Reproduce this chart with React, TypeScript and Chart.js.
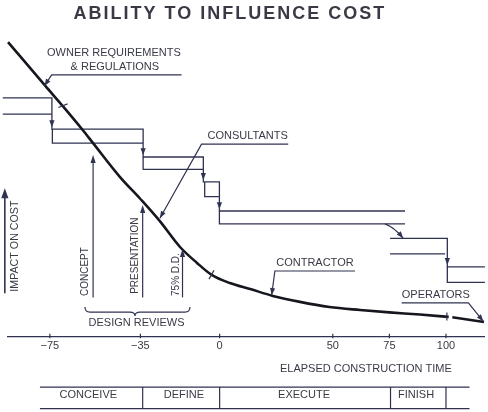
import { useEffect, useRef } from 'react';
import { Chart, registerables } from 'chart.js';

Chart.register(...registerables);

const INK = '#2f3350';
const CURVE = '#16161e';
const TEXT = '#3a3a46';
const FONT = '"Liberation Sans", Arial, Helvetica, sans-serif';

// ---- axis (elapsed construction time) ----
const axisMin = -93.5;
const axisMax = 116.8;
const tickValues = [-75, -35, 0, 50, 75, 100];
const tickLabels = ['\u221275', '\u221235', '0', '50', '75', '100'];

// ---- ability-to-influence curve (impact, 0..100) ----
const curveX = [-93.5, -77, -69, -60.5, -56, -44, -35, -26.5, -17.5, -10, -3.5, 4.5, 13.5, 23.5, 35.5, 48.5, 62, 75, 88.5, 101.2];
const curveY = [98.3, 83.7, 76.7, 69, 64.7, 53.3, 46, 38.7, 30, 24.7, 20.7, 18, 16, 13.7, 11.7, 10, 9, 8.2, 7.5, 6.7];
const tailX = [102.8, 116.8];
const tailY = [6.6, 5];

// ---- staircase band (upper path) ----
const stepUpperX = [-95.8, -74.1, -74.1, -33.8, -33.8, -7.2, -7.2, -0.1, -0.1, 81.9];
const stepUpperY = [79.7, 79.7, 69.3, 69.3, 60, 60, 51.7, 51.7, 42, 42];
const stepUpper2X = [75.3, 100.6, 100.6, 117.2];
const stepUpper2Y = [32.9, 32.9, 23.4, 23.4];

// ---- staircase band (lower edges of each step) ----
const lowerAX = [-95.8, -74.1];
const lowerAY = [74.3, 74.3];
const lowerBX = [-73.9, -73.9, -33.8];
const lowerBY = [69.3, 64.6, 64.6];
const lowerCX = [-33.8, -33.8, -7.2];
const lowerCY = [60, 55.9, 55.9];
const lowerDX = [-6.6, -6.6, -0.1];
const lowerDY = [51.7, 46.8, 46.8];
const lowerEX = [-0.1, -0.1, 81.9];
const lowerEY = [42, 37.7, 37.7];
const lowerFX = [75.3, 99.6];
const lowerFY = [27.7, 27.7];
const lowerGX = [100.6, 100.6, 117.2];
const lowerGY = [23.4, 18.2, 18.2];

// arrow tips on the staircase (pointing down)
const stepArrowX = [-74.1, -33.8, -7.2, -0.1, 100.6];
const stepArrowY = [69.9, 60.6, 52.3, 42.6, 24.0];

// ---- texts ----
const titleText = 'ABILITY TO INFLUENCE COST';
const titleX = 4.1;
const titleY = 107.7;

const labelText = ['OWNER REQUIREMENTS', '& REGULATIONS', 'CONSULTANTS', 'CONTRACTOR', 'OPERATORS', 'DESIGN REVIEWS', 'ELAPSED CONSTRUCTION TIME'];
const labelX = [-46.7, -46.3, 12.4, 42.1, 95.5, -36.7, 64.6];
const labelY = [94.6, 90.1, 67, 24.6, 14, 4.8, -10.7];

const vText = ['IMPACT ON COST', 'CONCEPT', 'PRESENTATION', '75% D.D.'];
const vX = [-90.6, -59.3, -37.4, -19.3];
const vY = [30.3, 21.8, 27.1, 20.8];
const vSize = [10.7, 10, 10, 10];

// upward arrows: x, from, to
const upArrowX = [-94.9, -55.9, -34, -16.4];
const upArrowFrom = [14.6, 13.2, 13.2, 13.2];
const upArrowTo = [49.6, 60.7, 44, 29.3];

// leaders: underline start, underline end (= corner), tip
const leaderStartX = [-16.8, 30.3, 59.8, 80.4];
const leaderCornerX = [-74.2, -8, 24.4, 109.9];
const leaderLineY = [87.4, 64.3, 22, 11.4];
const leaderTipX = [-77.4, -26.4, 23, 116.5];
const leaderTipY = [83.7, 39.6, 14, 5.2];

// curved arrow between the long step and the finish steps
const bendFrom = [73, 37.7];
const bendTo = [81.1, 32.9];

// small cross marks on the curve
const markX1 = [-71.2, -4.7, 100.4];
const markY1 = [76.5, 19.3, 8.2];
const markX2 = [-67.2, -2.5, 100.4];
const markY2 = [77.7, 22.2, 5.5];

// brace under the review arrows
const braceLeft = -59.5;
const braceRight = -13.1;
const braceMid = -37.4;
const braceEndY = 10;
const braceLineY = 8.3;
const braceTipY = 7;

// phase strip
const phaseNames = ['CONCEIVE', 'DEFINE', 'EXECUTE', 'FINISH'];
const phaseLabelX = [-58, -15.8, 37.3, 86.8];
const phaseLabelY = -19.3;
const phaseDividers = [-34, 0, 75.5, 100];
const phaseLeft = -79.4;
const phaseRight = 110.4;
const phaseTop = -16.7;
const phaseBottom = -23.9;

const pts = (xs: number[], ys: number[]) => xs.map((x, i) => ({ x, y: ys[i] }));

function arrowHead(ctx: CanvasRenderingContext2D, tx: number, ty: number, fx: number, fy: number, len: number, half: number) {
  const a = Math.atan2(ty - fy, tx - fx);
  const bx = tx - len * Math.cos(a);
  const by = ty - len * Math.sin(a);
  ctx.beginPath();
  ctx.moveTo(tx, ty);
  ctx.lineTo(bx + half * Math.sin(a), by - half * Math.cos(a));
  ctx.lineTo(bx - half * Math.sin(a), by + half * Math.cos(a));
  ctx.closePath();
  ctx.fill();
}

const diagramPlugin = {
  id: 'diagram',
  afterDatasetsDraw(chart: any) {
    const ctx: CanvasRenderingContext2D = chart.ctx;
    const xs = chart.scales.x;
    const ys = chart.scales.y;
    const X = (u: number) => xs.getPixelForValue(u);
    const Y = (v: number) => ys.getPixelForValue(v);
    ctx.save();
    ctx.strokeStyle = INK;
    ctx.fillStyle = INK;
    ctx.lineWidth = 1.2;
    ctx.lineCap = 'butt';

    // axis tick marks
    tickValues.forEach((t) => {
      ctx.beginPath();
      ctx.moveTo(X(t), Y(1.1));
      ctx.lineTo(X(t), Y(-0.4));
      ctx.stroke();
    });

    // staircase arrow heads
    stepArrowX.forEach((u, i) => {
      arrowHead(ctx, X(u), Y(stepArrowY[i]), X(u), Y(stepArrowY[i]) - 6, 7, 2.6);
    });

    // bent arrow
    {
      const x0 = X(bendFrom[0]), y0 = Y(bendFrom[1]);
      const x1 = X(bendTo[0]), y1 = Y(bendTo[1]);
      const cx = x0 + 9, cy = y0 + 3;
      ctx.beginPath();
      ctx.moveTo(x0, y0);
      ctx.quadraticCurveTo(cx, cy, x1, y1);
      ctx.stroke();
      arrowHead(ctx, x1, y1, cx, cy, 7, 2.6);
    }

    // leaders
    leaderStartX.forEach((s, i) => {
      ctx.beginPath();
      ctx.moveTo(X(s), Y(leaderLineY[i]));
      ctx.lineTo(X(leaderCornerX[i]), Y(leaderLineY[i]));
      ctx.lineTo(X(leaderTipX[i]), Y(leaderTipY[i]));
      ctx.stroke();
      arrowHead(ctx, X(leaderTipX[i]), Y(leaderTipY[i]), X(leaderCornerX[i]), Y(leaderLineY[i]), 7, 2.6);
    });

    // upward arrows
    upArrowX.forEach((u, i) => {
      const big = i === 0;
      ctx.lineWidth = big ? 1.6 : 1.2;
      ctx.beginPath();
      ctx.moveTo(X(u), Y(upArrowFrom[i]));
      ctx.lineTo(X(u), Y(upArrowTo[i]) + 4);
      ctx.stroke();
      arrowHead(ctx, X(u), Y(upArrowTo[i]), X(u), Y(upArrowTo[i]) + 10, big ? 10 : 8, big ? 3.6 : 2.6);
    });
    ctx.lineWidth = 1.2;

    // marks on the curve
    markX1.forEach((u, i) => {
      ctx.beginPath();
      ctx.moveTo(X(u), Y(markY1[i]));
      ctx.lineTo(X(markX2[i]), Y(markY2[i]));
      ctx.stroke();
    });

    // brace
    {
      const l = X(braceLeft), r = X(braceRight), m = X(braceMid);
      const ye = Y(braceEndY), yl = Y(braceLineY), yt = Y(braceTipY);
      ctx.beginPath();
      ctx.moveTo(l, ye);
      ctx.quadraticCurveTo(l, yl, l + 5, yl);
      ctx.lineTo(m - 5, yl);
      ctx.quadraticCurveTo(m, yl, m, yt);
      ctx.quadraticCurveTo(m, yl, m + 5, yl);
      ctx.lineTo(r - 5, yl);
      ctx.quadraticCurveTo(r, yl, r, ye);
      ctx.stroke();
    }

    // phase strip
    ctx.beginPath();
    ctx.moveTo(X(phaseLeft), Y(phaseTop));
    ctx.lineTo(X(phaseRight), Y(phaseTop));
    ctx.moveTo(X(phaseLeft), Y(phaseBottom));
    ctx.lineTo(X(phaseRight), Y(phaseBottom));
    phaseDividers.forEach((d) => {
      ctx.moveTo(X(d), Y(phaseTop));
      ctx.lineTo(X(d), Y(phaseBottom));
    });
    ctx.stroke();

    // texts
    ctx.fillStyle = TEXT;
    ctx.textAlign = 'center';
    ctx.textBaseline = 'middle';

    ctx.font = `bold 18px ${FONT}`;
    (ctx as any).letterSpacing = '2px';
    ctx.fillText(titleText, X(titleX) + 1, Y(titleY));
    (ctx as any).letterSpacing = '0px';

    ctx.font = `11px ${FONT}`;
    labelText.forEach((t, i) => ctx.fillText(t, X(labelX[i]), Y(labelY[i])));
    phaseNames.forEach((t, i) => ctx.fillText(t, X(phaseLabelX[i]), Y(phaseLabelY)));

    vText.forEach((t, i) => {
      ctx.save();
      ctx.translate(X(vX[i]), Y(vY[i]));
      ctx.rotate(-Math.PI / 2);
      ctx.font = `${vSize[i]}px ${FONT}`;
      ctx.fillText(t, 0, 0);
      ctx.restore();
    });

    ctx.restore();
  },
};

function line(data: { x: number; y: number }[], width: number, color: string, smooth = false) {
  return {
    data,
    borderColor: color,
    borderWidth: width,
    pointRadius: 0,
    fill: false,
    clip: false as any,
    tension: smooth ? 0.4 : 0,
    cubicInterpolationMode: smooth ? 'monotone' : 'default',
  };
}

export default function App() {
  const ref = useRef<HTMLCanvasElement>(null);
  useEffect(() => {
    const chart = new Chart(ref.current as HTMLCanvasElement, {
      type: 'line',
      data: {
        datasets: [
          line(pts(curveX, curveY), 2.6, CURVE, true),
          line(pts(tailX, tailY), 2.6, CURVE),
          line(pts(stepUpperX, stepUpperY), 1.3, INK),
          line(pts(stepUpper2X, stepUpper2Y), 1.3, INK),
          line(pts(lowerAX, lowerAY), 1.3, INK),
          line(pts(lowerBX, lowerBY), 1.3, INK),
          line(pts(lowerCX, lowerCY), 1.3, INK),
          line(pts(lowerDX, lowerDY), 1.3, INK),
          line(pts(lowerEX, lowerEY), 1.3, INK),
          line(pts(lowerFX, lowerFY), 1.3, INK),
          line(pts(lowerGX, lowerGY), 1.3, INK),
        ] as any,
      },
      options: {
        responsive: false,
        animation: false,
        layout: { padding: { left: 8, right: 4, top: 37, bottom: 0 } },
        plugins: {
          legend: { display: false },
          tooltip: { enabled: false },
          title: { display: false },
        },
        scales: {
          x: {
            type: 'linear',
            min: axisMin,
            max: axisMax,
            grid: { display: false, drawTicks: false },
            border: { display: true, color: INK, width: 1.2 },
            afterBuildTicks: (axis: any) => {
              axis.ticks = tickValues.map((v) => ({ value: v }));
            },
            afterFit: (axis: any) => {
              axis.height = 75;
            },
            ticks: {
              padding: 2,
              color: TEXT,
              font: { family: FONT, size: 11 },
              autoSkip: false,
              maxRotation: 0,
              callback: (_v: any, i: number) => tickLabels[i],
            },
          },
          y: { type: 'linear', min: 0, max: 100, display: false },
        },
      } as any,
      plugins: [diagramPlugin],
    });
    return () => chart.destroy();
  }, []);
  return (
    <div style={{ position: 'absolute', left: 0, top: 0, width: 488, height: 412, background: '#fff' }}>
      <canvas ref={ref} width={488} height={412} style={{ width: 488, height: 412, display: 'block' }} />
    </div>
  );
}
